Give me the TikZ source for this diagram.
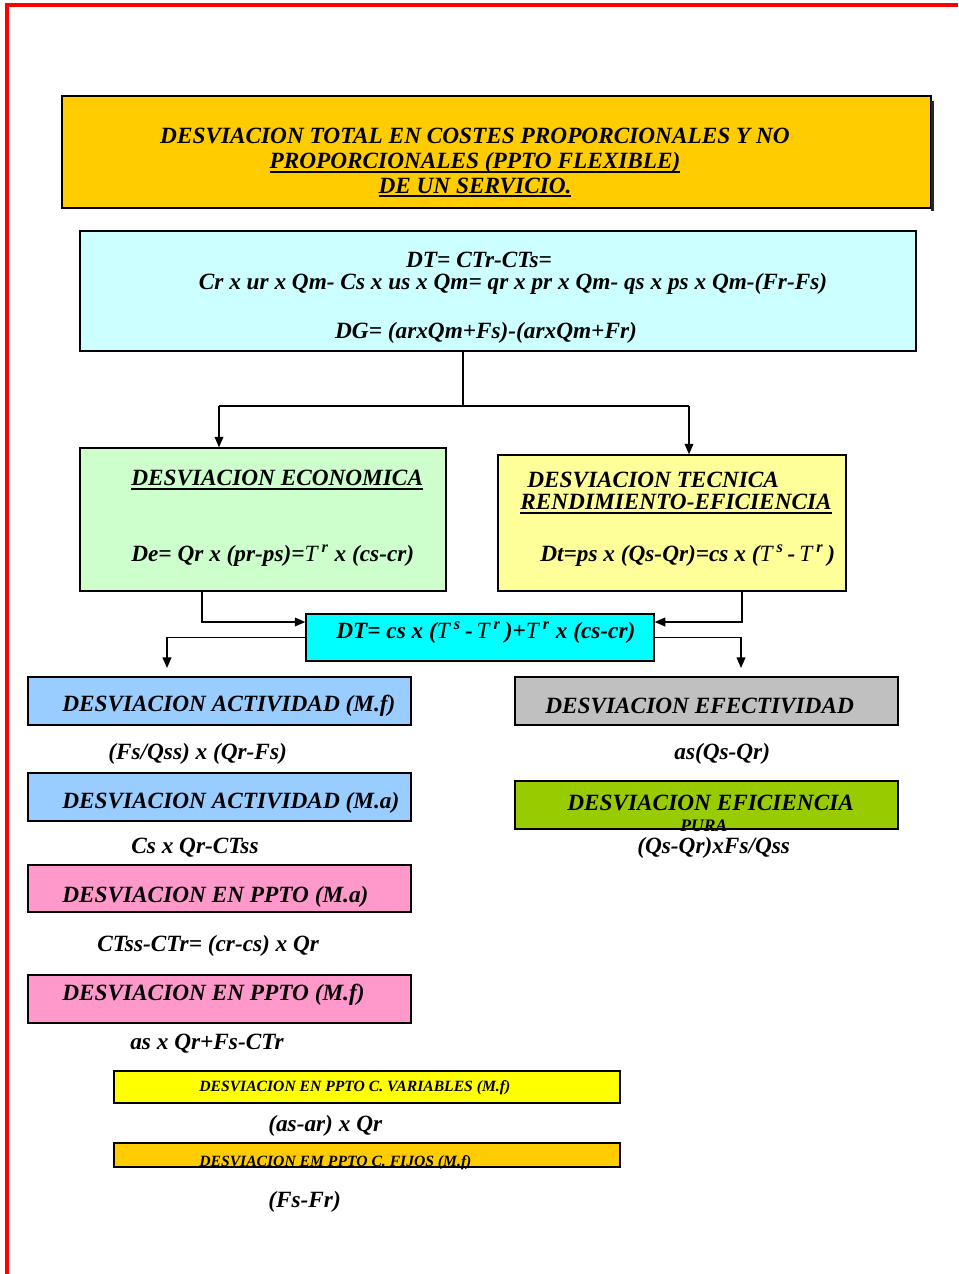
\documentclass[tikz,border=0pt]{standalone}
\usepackage{fontspec}
\setmainfont{Liberation Serif}
\usetikzlibrary{calc, arrows.meta}

\definecolor{naranja}{HTML}{FFCC00}
\definecolor{celeste}{HTML}{CCFFFF}
\definecolor{verdeclaro}{HTML}{CCFFCC}
\definecolor{amarillo}{HTML}{FFFF99}
\definecolor{cian}{HTML}{00FFFF}
\definecolor{azul}{HTML}{99CCFF}
\definecolor{rosa}{HTML}{FF99CC}
\definecolor{gris}{HTML}{C0C0C0}
\definecolor{oliva}{HTML}{99CC00}
\definecolor{limon}{HTML}{FFFF00}

% caja{nombre}{x1}{y1}{x2}{y2}{color}, medidas en px
\newcommand{\caja}[6]{%
  \node[box, fill=#6, minimum width={(#4-#2)*0.02cm}, minimum height={(#5-#3)*0.02cm}]
    (#1) at ({(#2+#4)/2},{(#3+#5)/2}) {};}
% subrayado grueso
\newsavebox{\subrbox}
\newcommand{\subr}[1]{\leavevmode\sbox{\subrbox}{#1}%
  \rlap{\rule[-2.4pt]{\wd\subrbox}{1.1pt}}\usebox{\subrbox}}
\newcommand{\Ts}{{\mdseries T}\textsuperscript{ s}}
\newcommand{\Tr}{{\mdseries T}\textsuperscript{ r}}

\tikzset{
  box/.style={draw, line width=0.8pt, inner sep=0pt},
  lbl/.style={font=\bfseries\itshape\fontsize{13.25}{14}\selectfont, inner sep=0pt, yshift=-1.1pt},
  tiny/.style={font=\bfseries\itshape\fontsize{8.9}{10}\selectfont, inner sep=0pt, yshift=-1.1pt},
  arr/.style={-{Triangle[length=6pt,width=5pt]}, line width=0.8pt},
}

\begin{document}
\begin{tikzpicture}[x=0.02cm, y=-0.02cm]
\useasboundingbox (0,0) rectangle (958,1274);
\draw[red, line width=2pt] (7,1274) -- (7,5) -- (958,5);

% titulo
\caja{titulo}{62}{96}{931}{208}{naranja}
\draw[line width=1.4pt, black!85] (titulo.north east) ++(1,6) -- ++(0,110);
\node[lbl, align=center] (titulo-t) at (475,161)
  {DESVIACION TOTAL EN COSTES PROPORCIONALES Y NO\\
   \subr{PROPORCIONALES (PPTO FLEXIBLE)}\\
   \subr{DE UN SERVICIO.}};

% desviacion total
\caja{dt}{80}{231}{916}{351}{celeste}
\node[lbl] (dt-1) at (479,258) {DT= CTr-CTs=};
\node[lbl] (dt-2) at (513,282) {Cr x ur x Qm- Cs x us x Qm= qr x pr x Qm- qs x ps x Qm-(Fr-Fs)};
\node[lbl] (dt-3) at (486,331) {DG= (arxQm+Fs)-(arxQm+Fr)};

% economica y tecnica
\caja{econ}{80}{448}{446}{591}{verdeclaro}
\node[lbl, anchor=west] (econ-t) at (131,478) {\subr{DESVIACION ECONOMICA}};
\node[lbl, anchor=west] (econ-f) at (131,554) {De= Qr x (pr-ps)=\Tr\ x (cs-cr)};

\caja{tec}{498}{455}{846}{591}{amarillo}
\node[lbl, anchor=west] (tec-t) at (527,478) {DESVIACION TECNICA};
\node[lbl, anchor=west] (tec-u) at (520,502) {\subr{RENDIMIENTO-EFICIENCIA}};
\node[lbl, anchor=west] (tec-f) at (540,554) {Dt=ps x (Qs-Qr)=cs x (\Ts\,-\,\Tr\,)};

\caja{total}{306}{614}{654}{661}{cian}
\node[lbl, anchor=west] (total-t) at (336,631) {DT= cs x (\Ts\,-\,\Tr\,)+\Tr\ x (cs-cr)};

% conexiones
\coordinate (split) at (463,406);
\coordinate (izq) at (219,406);
\coordinate (der) at (689,406);
\draw[line width=0.8pt] (dt.south -| split) -- (split);
\draw[line width=0.8pt] (izq) -- (der);
\draw[arr] (izq) -- (izq |- econ.north);
\draw[arr] (der) -- (der |- tec.north);

\coordinate (eb) at (202,591);
\coordinate (tb) at (742,591);
\draw[arr] (econ.south -| eb) |- ([yshift=0.31cm]total.west);
\draw[arr] (tec.south -| tb) |- ([yshift=0.31cm]total.east);
\coordinate (bajaizq) at (167,668);
\coordinate (bajader) at (741,668);
\draw[arr] (total.west) -| (bajaizq);
\draw[arr] (total.east) -| (bajader);

% columna izquierda
\foreach \nm/\ya/\yb/\yt/\col/\txt in {
    actf/677/725/704/azul/{DESVIACION ACTIVIDAD (M.f)},
    acta/773/821/801/azul/{DESVIACION ACTIVIDAD (M.a)},
    ppa/865/912/895/rosa/{DESVIACION EN PPTO (M.a)},
    ppf/975/1023/993/rosa/{DESVIACION EN PPTO (M.f)}}{
  \caja{\nm}{28}{\ya}{411}{\yb}{\col}
  \node[lbl, anchor=west] (\nm-t) at (62,\yt) {\txt};
}
\node[lbl, anchor=west] (actf-f) at (108,752) {(Fs/Qss) x (Qr-Fs)};
\node[lbl, anchor=west] (acta-f) at (131,846) {Cs x Qr-CTss};
\node[lbl, anchor=west] (ppa-f) at (97,944) {CTss-CTr= (cr-cs) x Qr};
\node[lbl, anchor=west] (ppf-f) at (130,1042) {as x Qr+Fs-CTr};

\caja{var}{114}{1071}{620}{1103}{limon}
\node[tiny, anchor=west] (var-t) at (199,1086) {DESVIACION EN PPTO C. VARIABLES (M.f)};
\node[lbl, anchor=west] (var-f) at (268,1124) {(as-ar) x Qr};
\caja{fij}{114}{1143}{620}{1167}{naranja}
\node[tiny, anchor=west] (fij-t) at (199,1161) {DESVIACION EM PPTO C. FIJOS (M.f)};
\node[lbl, anchor=west] (fij-f) at (268,1200) {(Fs-Fr)};

% columna derecha
\caja{efec}{515}{677}{898}{725}{gris}
\node[lbl, anchor=west] (efec-t) at (545,704) {DESVIACION EFECTIVIDAD};
\node[lbl, anchor=west] (efec-f) at (674,752) {as(Qs-Qr)};
\caja{efic}{515}{781}{898}{829}{oliva}
\node[lbl, anchor=west] (efic-t) at (567,801) {DESVIACION EFICIENCIA};
\node[tiny, anchor=west, font=\bfseries\itshape\fontsize{10}{11}\selectfont] (efic-p) at (680,824) {PURA};
\node[lbl, anchor=west] (efic-f) at (637,846) {(Qs-Qr)xFs/Qss};
\end{tikzpicture}
\end{document}
